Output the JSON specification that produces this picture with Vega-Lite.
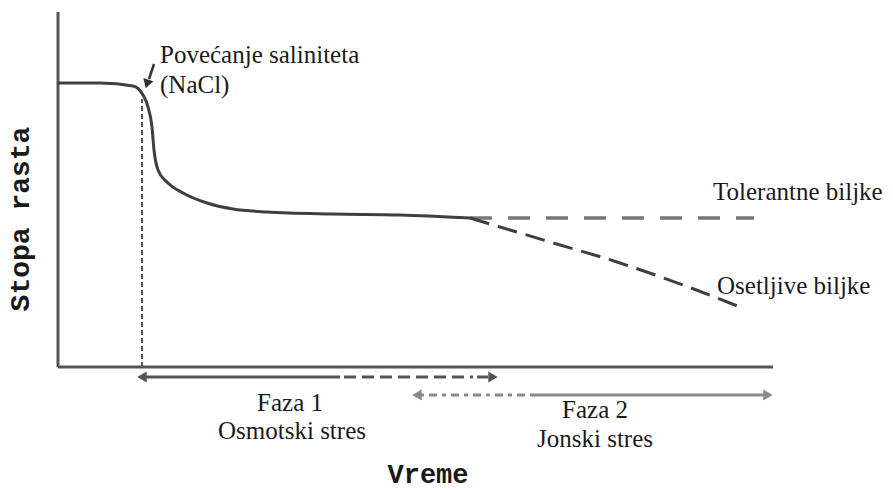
{
  "$schema": "https://vega.github.io/schema/vega-lite/v6.json",
  "width": 893,
  "height": 490,
  "autosize": {"type": "fit", "contains": "padding"},
  "padding": 0,
  "background": "white",
  "config": {"view": {"stroke": null}},
  "datasets": {
    "frame": [
      {"t": 0, "g": 0, "t2": 0, "g2": 35.5},
      {"t": 0, "g": 0, "t2": 71.5, "g2": 0}
    ],
    "main": [
      {"t": 0, "g": 28.4}, {"t": 4.2, "g": 28.4}, {"t": 7.5, "g": 28.1}, {"t": 8.5, "g": 27.2},
      {"t": 9.0, "g": 26.0}, {"t": 9.4, "g": 24.0}, {"t": 9.6, "g": 21.7}, {"t": 10.0, "g": 19.7},
      {"t": 10.9, "g": 18.5}, {"t": 12.5, "g": 17.4}, {"t": 14.9, "g": 16.4}, {"t": 17.5, "g": 15.8},
      {"t": 20.9, "g": 15.5}, {"t": 27.5, "g": 15.3}, {"t": 34.2, "g": 15.2}, {"t": 41.2, "g": 14.9}
    ],
    "tolerant": [
      {"t": 41.2, "g": 14.9}, {"t": 69.6, "g": 14.9}
    ],
    "sensitive": [
      {"t": 41.2, "g": 14.9}, {"t": 44.2, "g": 14.0}, {"t": 49.2, "g": 12.5},
      {"t": 55.9, "g": 10.5}, {"t": 62.5, "g": 8.2}, {"t": 68.2, "g": 6.0}
    ],
    "marker": [
      {"t": 8.4, "g": 0, "t2": 8.4, "g2": 26.8}
    ],
    "arrows": [
      {"part": "f1solid", "t": 8.6, "g": -1.0, "t2": 27.9, "g2": -1.0},
      {"part": "f1dash", "t": 27.9, "g": -1.0, "t2": 43.0, "g2": -1.0},
      {"part": "f2dash", "t": 36.2, "g": -2.8, "t2": 47.5, "g2": -2.8},
      {"part": "f2solid", "t": 47.5, "g": -2.8, "t2": 70.8, "g2": -2.8},
      {"part": "nacl", "t": 9.6, "g": 30.3, "t2": 9.1, "g2": 28.8}
    ],
    "heads": [
      {"phase": "Faza 1", "dir": "left", "t": 8.4, "g": -1.0},
      {"phase": "Faza 1", "dir": "right", "t": 43.5, "g": -1.0},
      {"phase": "Faza 2", "dir": "left", "t": 35.9, "g": -2.8},
      {"phase": "Faza 2", "dir": "right", "t": 71.0, "g": -2.8}
    ],
    "naclhead": [
      {"t": 8.9, "g": 28.3}
    ],
    "labelsLeft": [
      {"label": "Povećanje saliniteta", "t": 10.2, "g": 30.45},
      {"label": "(NaCl)", "t": 10.2, "g": 27.4},
      {"label": "Tolerantne biljke", "t": 65.5, "g": 16.7},
      {"label": "Osetljive biljke", "t": 65.9, "g": 7.3}
    ],
    "labelsCenter": [
      {"label": "Faza 1", "t": 23.2, "g": -4.4},
      {"label": "Osmotski stres", "t": 23.4, "g": -7.2},
      {"label": "Faza 2", "t": 53.7, "g": -5.1},
      {"label": "Jonski stres", "t": 53.7, "g": -8.0}
    ],
    "xTitle": [{"label": "Vreme", "t": 37.0, "g": -11.6}],
    "yTitle": [{"label": "Stopa rasta", "t": -3.7, "g": 14.8}]
  },
  "layer": [
    {
      "data": {"name": "frame"},
      "mark": {"type": "rule", "color": "#555555", "strokeWidth": 3},
      "encoding": {
        "x": {"field": "t", "type": "quantitative", "scale": {"domain": [-5.8, 83.5], "nice": false, "zero": false}, "axis": null},
        "y": {"field": "g", "type": "quantitative", "scale": {"domain": [-12.3, 36.7], "nice": false, "zero": false}, "axis": null},
        "x2": {"field": "t2"},
        "y2": {"field": "g2"}
      }
    },
    {
      "data": {"name": "marker"},
      "mark": {"type": "rule", "color": "#555555", "strokeWidth": 2, "strokeDash": [5, 3]},
      "encoding": {
        "x": {"field": "t", "type": "quantitative"},
        "y": {"field": "g", "type": "quantitative"},
        "x2": {"field": "t2"},
        "y2": {"field": "g2"}
      }
    },
    {
      "data": {"name": "main"},
      "mark": {"type": "line", "color": "#3f3f3f", "strokeWidth": 3, "interpolate": "monotone"},
      "encoding": {
        "x": {"field": "t", "type": "quantitative"},
        "y": {"field": "g", "type": "quantitative"}
      }
    },
    {
      "data": {"name": "tolerant"},
      "mark": {"type": "line", "color": "#777777", "strokeWidth": 3.5, "strokeDash": [22, 16]},
      "encoding": {
        "x": {"field": "t", "type": "quantitative"},
        "y": {"field": "g", "type": "quantitative"}
      }
    },
    {
      "data": {"name": "sensitive"},
      "mark": {"type": "line", "color": "#3f3f3f", "strokeWidth": 3, "strokeDash": [20, 9], "interpolate": "monotone"},
      "encoding": {
        "x": {"field": "t", "type": "quantitative"},
        "y": {"field": "g", "type": "quantitative"}
      }
    },
    {
      "data": {"name": "arrows"},
      "transform": [{"filter": "datum.part === 'f1solid'"}],
      "mark": {"type": "rule", "color": "#555555", "strokeWidth": 3},
      "encoding": {
        "x": {"field": "t", "type": "quantitative"},
        "y": {"field": "g", "type": "quantitative"},
        "x2": {"field": "t2"},
        "y2": {"field": "g2"}
      }
    },
    {
      "data": {"name": "arrows"},
      "transform": [{"filter": "datum.part === 'f1dash'"}],
      "mark": {"type": "rule", "color": "#555555", "strokeWidth": 3, "strokeDash": [3, 4, 12, 6, 12, 6, 12, 6, 12, 6, 12, 6, 12, 6, 12, 6]},
      "encoding": {
        "x": {"field": "t", "type": "quantitative"},
        "y": {"field": "g", "type": "quantitative"},
        "x2": {"field": "t2"},
        "y2": {"field": "g2"}
      }
    },
    {
      "data": {"name": "arrows"},
      "transform": [{"filter": "datum.part === 'f2dash'"}],
      "mark": {"type": "rule", "color": "#8a8a8a", "strokeWidth": 3, "strokeDash": [4, 5, 8, 5]},
      "encoding": {
        "x": {"field": "t", "type": "quantitative"},
        "y": {"field": "g", "type": "quantitative"},
        "x2": {"field": "t2"},
        "y2": {"field": "g2"}
      }
    },
    {
      "data": {"name": "arrows"},
      "transform": [{"filter": "datum.part === 'f2solid'"}],
      "mark": {"type": "rule", "color": "#8a8a8a", "strokeWidth": 3},
      "encoding": {
        "x": {"field": "t", "type": "quantitative"},
        "y": {"field": "g", "type": "quantitative"},
        "x2": {"field": "t2"},
        "y2": {"field": "g2"}
      }
    },
    {
      "data": {"name": "arrows"},
      "transform": [{"filter": "datum.part === 'nacl'"}],
      "mark": {"type": "rule", "color": "#333333", "strokeWidth": 2.5},
      "encoding": {
        "x": {"field": "t", "type": "quantitative"},
        "y": {"field": "g", "type": "quantitative"},
        "x2": {"field": "t2"},
        "y2": {"field": "g2"}
      }
    },
    {
      "data": {"name": "heads"},
      "mark": {"type": "point", "filled": true, "opacity": 1, "size": 120},
      "encoding": {
        "x": {"field": "t", "type": "quantitative"},
        "y": {"field": "g", "type": "quantitative"},
        "shape": {"field": "dir", "type": "nominal", "scale": {"domain": ["left", "right"], "range": ["triangle-left", "triangle-right"]}, "legend": null},
        "color": {"field": "phase", "type": "nominal", "scale": {"domain": ["Faza 1", "Faza 2"], "range": ["#555555", "#8a8a8a"]}, "legend": null}
      }
    },
    {
      "data": {"name": "naclhead"},
      "mark": {"type": "point", "filled": true, "opacity": 1, "size": 110, "shape": "triangle-down", "angle": 17, "color": "#333333"},
      "encoding": {
        "x": {"field": "t", "type": "quantitative"},
        "y": {"field": "g", "type": "quantitative"}
      }
    },
    {
      "data": {"name": "labelsLeft"},
      "mark": {"type": "text", "font": "Liberation Serif", "fontSize": 25, "color": "#1a1a1a", "align": "left", "baseline": "alphabetic"},
      "encoding": {
        "x": {"field": "t", "type": "quantitative"},
        "y": {"field": "g", "type": "quantitative"},
        "text": {"field": "label"}
      }
    },
    {
      "data": {"name": "labelsCenter"},
      "mark": {"type": "text", "font": "Liberation Serif", "fontSize": 25, "color": "#1a1a1a", "align": "center", "baseline": "alphabetic"},
      "encoding": {
        "x": {"field": "t", "type": "quantitative"},
        "y": {"field": "g", "type": "quantitative"},
        "text": {"field": "label"}
      }
    },
    {
      "data": {"name": "xTitle"},
      "mark": {"type": "text", "font": "Liberation Mono", "fontWeight": "bold", "fontSize": 27, "color": "#1a1a1a", "align": "center", "baseline": "alphabetic"},
      "encoding": {
        "x": {"field": "t", "type": "quantitative"},
        "y": {"field": "g", "type": "quantitative"},
        "text": {"field": "label"}
      }
    },
    {
      "data": {"name": "yTitle"},
      "mark": {"type": "text", "font": "Liberation Mono", "fontWeight": "bold", "fontSize": 28, "color": "#1a1a1a", "align": "center", "baseline": "middle", "angle": 270},
      "encoding": {
        "x": {"field": "t", "type": "quantitative"},
        "y": {"field": "g", "type": "quantitative"},
        "text": {"field": "label"}
      }
    }
  ]
}
